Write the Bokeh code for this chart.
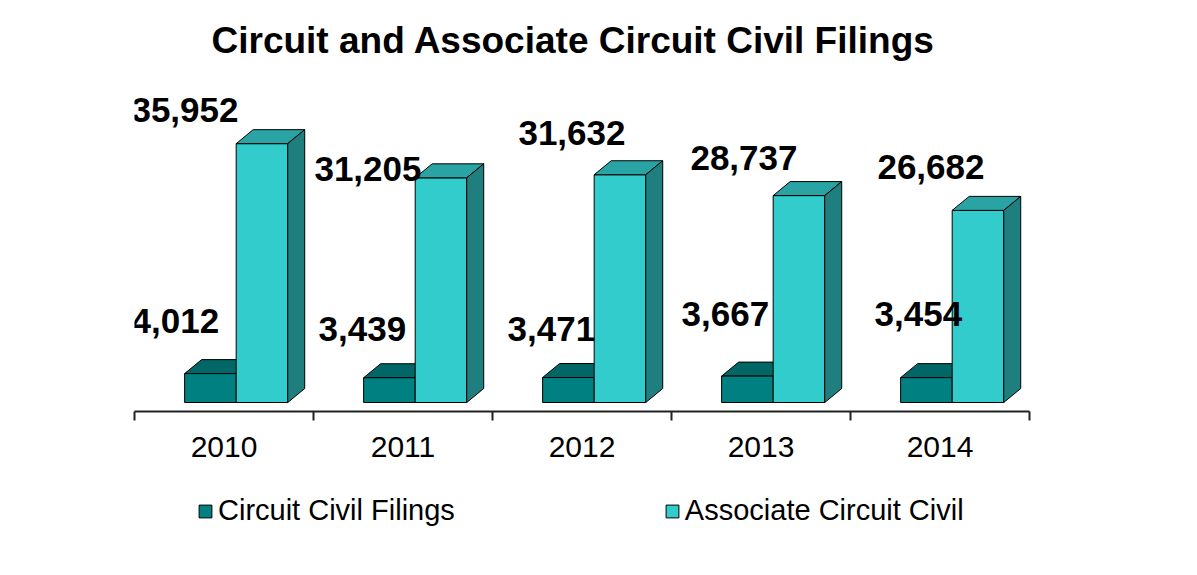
from bokeh.plotting import figure
from bokeh.layouts import column
from bokeh.models import (Range1d, FixedTicker, Legend, LegendItem, ColumnDataSource)
from bokeh.core.properties import value
from bokeh.embed import file_html
from bokeh.resources import INLINE

# ---- data ----
years = ["2010", "2011", "2012", "2013", "2014"]
series_names = ["Circuit Civil Filings", "Associate Circuit Civil"]
circuit_civil = [4012, 3439, 3471, 3667, 3454]
associate_civil = [35952, 31205, 31632, 28737, 26682]

# label nudges (screen px, relative to bar top-centre)
dark_lbl_dx = [-35, -27, -17, -22, -8]
dark_lbl_dy = [53, 49, 49, 62, 64]
light_lbl_dx = [-77, -73, -48, -55, -47]
light_lbl_dy = [34, 9, 42, 38, 43]

# ---- layout constants ----
FW, FH = 895, 340
BL, BT, BB = 134, 71, 74
W, H = 1197, 575
BR = W - BL - FW
H1 = BT + FH + BB
H2 = H - H1
K = 0.0072                 # px per unit value
Y0 = -9 / K
Y1 = Y0 + FH / K
N = len(years)
PXC = FW / N               # px per category
DXd = 17 / PXC             # depth in data units (x)
DYd = 14 / K               # depth in data units (y)
BW = 0.288
DARK_L = 0.28

C_DARK = "#008080"; C_DARK_TOP = "#006666"; C_DARK_SIDE = "#004D4D"
C_LIGHT = "#33CCCC"; C_LIGHT_TOP = "#29A3A3"; C_LIGHT_SIDE = "#1F7F7F"
FONT = "Liberation Sans"

p = figure(frame_width=FW, frame_height=FH, output_backend="svg", toolbar_location=None,
           x_range=Range1d(0, N), y_range=Range1d(Y0, Y1),
           min_border_left=BL, min_border_right=BR,
           min_border_top=BT, min_border_bottom=BB)
p.outline_line_color = None
p.xgrid.visible = False
p.ygrid.visible = False
p.yaxis.visible = False
p.background_fill_color = "white"
p.border_fill_color = "white"


def faces(lefts, vals):
    rights = [l + BW for l in lefts]
    top_xs = [[l, r, r + DXd, l + DXd] for l, r in zip(lefts, rights)]
    top_ys = [[v, v, v + DYd, v + DYd] for v in vals]
    side_xs = [[r, r + DXd, r + DXd, r] for r in rights]
    side_ys = [[0, DYd, v + DYd, v] for v in vals]
    return rights, top_xs, top_ys, side_xs, side_ys


dark_l = [i + DARK_L for i in range(N)]
light_l = [i + DARK_L + BW for i in range(N)]

dr, dtx, dty, dsx, dsy = faces(dark_l, circuit_civil)
lr, ltx, lty, lsx, lsy = faces(light_l, associate_civil)

p.patches(dtx, dty, fill_color=C_DARK_TOP, line_color="black", line_width=1)
p.patches(dsx, dsy, fill_color=C_DARK_SIDE, line_color="black", line_width=1)
p.quad(left=dark_l, right=dr, bottom=0, top=circuit_civil,
       fill_color=C_DARK, line_color="black", line_width=1)
p.quad(left=light_l, right=lr, bottom=0, top=associate_civil,
       fill_color=C_LIGHT, line_color="black", line_width=1)
p.patches(ltx, lty, fill_color=C_LIGHT_TOP, line_color="black", line_width=1)
p.patches(lsx, lsy, fill_color=C_LIGHT_SIDE, line_color="black", line_width=1)

# value labels
dsrc = ColumnDataSource(dict(x=[l + BW / 2 for l in dark_l], y=circuit_civil,
                             t=[f"{v:,}" for v in circuit_civil],
                             dx=dark_lbl_dx, dy=[-d for d in dark_lbl_dy]))
lsrc = ColumnDataSource(dict(x=[l + BW / 2 for l in light_l], y=associate_civil,
                             t=[f"{v:,}" for v in associate_civil],
                             dx=light_lbl_dx, dy=[-d for d in light_lbl_dy]))
for src in (dsrc, lsrc):
    p.text(x="x", y="y", text="t", x_offset="dx", y_offset="dy", source=src,
           text_align="center", text_baseline="middle",
           text_font=value(FONT), text_font_size="35px", text_font_style="bold",
           text_color="black")

# x axis
ax = p.xaxis[0]
ax.ticker = FixedTicker(ticks=[i + 0.5 for i in range(N)],
                        minor_ticks=list(range(N + 1)))
ax.major_label_overrides = {i + 0.5: y for i, y in enumerate(years)}
ax.major_tick_line_color = None
ax.major_tick_out = 9
ax.major_tick_in = 0
ax.minor_tick_out = 9
ax.minor_tick_in = 0
ax.minor_tick_line_color = "#222222"
ax.minor_tick_line_width = 2
ax.axis_line_color = "#222222"
ax.axis_line_width = 2
ax.major_label_standoff = 16
ax.major_label_text_font = FONT
ax.major_label_text_font_size = "30px"
ax.major_label_text_color = "black"

# title
p.title.text = "Circuit and Associate Circuit Civil Filings"
p.title.align = "left"
p.title.offset = 77
p.title.standoff = 22
p.title.text_font = FONT
p.title.text_font_size = "37px"
p.title.text_font_style = "bold"
p.title.text_color = "black"

# legend strip below the chart (its frame is aligned with the chart's frame)
p2 = figure(width=W, height=H2, output_backend="svg", toolbar_location=None,
            x_range=Range1d(0, 1), y_range=Range1d(0, 1),
            x_axis_location=None, y_axis_location=None,
            min_border=0)
p2.outline_line_color = None
p2.xgrid.visible = False
p2.ygrid.visible = False
p2.background_fill_color = "white"
p2.border_fill_color = "white"
# legend-only swatches, kept outside the visible range
lg_dark = p2.quad(left=[2], right=[3], bottom=[2], top=[3],
                  fill_color=C_DARK, line_color="black", line_width=1)
lg_light = p2.quad(left=[2], right=[3], bottom=[2], top=[3],
                   fill_color=C_LIGHT, line_color="black", line_width=1)
legend = Legend(items=[LegendItem(label=series_names[0], renderers=[lg_dark]),
                       LegendItem(label=series_names[1], renderers=[lg_light])],
                orientation="horizontal", location=(197 - BL, H2 - 42),
                glyph_width=16, glyph_height=16, label_standoff=5, spacing=209,
                label_text_font=FONT, label_text_font_size="29px",
                label_text_color="black", border_line_color=None,
                background_fill_alpha=0, margin=0, padding=8)
p2.add_layout(legend, "center")

layout = column(p, p2, spacing=0)
open("out.html", "w").write(file_html(layout, INLINE))
